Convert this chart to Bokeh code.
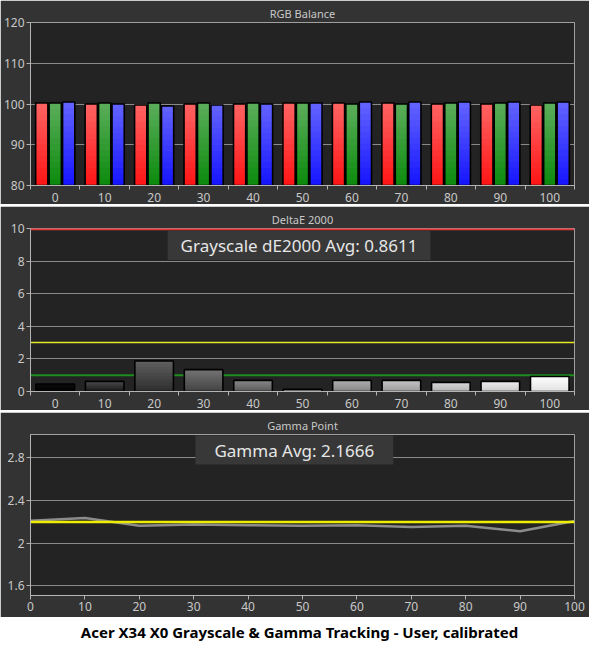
from bokeh.plotting import figure
from bokeh.models import FixedTicker, Span, Label, Range1d, Div
from bokeh.layouts import column
from bokeh.embed import file_html
from bokeh.resources import INLINE

# ---------------- data ----------------
levels = [0, 10, 20, 30, 40, 50, 60, 70, 80, 90, 100]
level_labels = ["0", "10", "20", "30", "40", "50", "60", "70", "80", "90", "100"]

red_vals = [100.24, 100.0, 99.76, 100.0, 100.0, 100.24, 100.24, 100.24, 100.0, 100.0, 99.76]
green_vals = [100.24, 100.24, 100.24, 100.24, 100.24, 100.24, 100.0, 100.0, 100.24, 100.24, 100.24]
blue_vals = [100.48, 100.0, 99.52, 99.76, 100.0, 100.24, 100.48, 100.48, 100.48, 100.48, 100.48]

de_vals = [0.46, 0.62, 1.87, 1.34, 0.68, 0.14, 0.68, 0.68, 0.56, 0.62, 0.92]
de_limits = [10, 3, 1]
de_avg_text = "Grayscale dE2000 Avg: 0.8611"

gamma_vals = [2.21, 2.236, 2.164, 2.176, 2.17, 2.164, 2.17, 2.152, 2.164, 2.113, 2.209]
gamma_target = 2.2
gamma_avg_text = "Gamma Avg: 2.1666"

rgb_ticks = [80, 90, 100, 110, 120]
de_ticks = [0, 2, 4, 6, 8, 10]
gamma_ticks = [1.6, 2.0, 2.4, 2.8]

caption = "Acer X34 X0 Grayscale & Gamma Tracking - User, calibrated"

# ---------------- style ----------------
FONT = "Noto Sans"
OUTER = "#333333"
INNER = "#232323"
GRID = "#8a8a8a"
AXIS = "#b4b4b4"
LABEL = "#c8c8c8"
W = 589


def hex2rgb(h):
    h = h.lstrip("#")
    return tuple(int(h[i:i + 2], 16) for i in (0, 2, 4))


def mix(c1, c2, t):
    a, b = hex2rgb(c1), hex2rgb(c2)
    return "#%02x%02x%02x" % tuple(int(round(a[i] + (b[i] - a[i]) * t)) for i in range(3))


def base_fig(title, height, xr, yr, left, right, top, bottom):
    p = figure(width=W, height=height, x_range=xr, y_range=yr,
               output_backend="svg", toolbar_location=None, tools="",
               min_border_left=left, min_border_right=right,
               min_border_top=top, min_border_bottom=bottom)
    p.title.text = title
    p.title.align = "center"
    p.title.text_color = LABEL
    p.title.text_font = FONT
    p.title.text_font_size = "11px"
    p.title.text_font_style = "normal"
    p.title.standoff = 4
    p.border_fill_color = OUTER
    p.background_fill_color = INNER
    p.outline_line_color = "#a0a0a0"
    p.outline_line_width = 1
    p.xgrid.grid_line_color = None
    p.ygrid.grid_line_color = GRID
    p.ygrid.grid_line_width = 1
    for ax in (p.xaxis[0], p.yaxis[0]):
        ax.axis_line_color = AXIS
        ax.major_tick_line_color = AXIS
        ax.minor_tick_line_color = AXIS
        ax.major_label_text_color = LABEL
        ax.major_label_text_font = FONT
        ax.major_label_text_font_size = "12px"
        ax.major_label_standoff = 2
        ax.major_tick_in = 0
        ax.minor_tick_in = 0
    p.yaxis[0].major_tick_out = 4
    p.yaxis[0].minor_tick_line_color = None
    return p


def cat_xaxis(p):
    bounds = [l - 5 for l in levels] + [levels[-1] + 5]
    p.xaxis[0].ticker = FixedTicker(ticks=levels, minor_ticks=bounds)
    p.xaxis[0].major_label_overrides = {l: s for l, s in zip(levels, level_labels)}
    p.xaxis[0].major_tick_out = 0
    p.xaxis[0].major_tick_line_color = None
    p.xaxis[0].minor_tick_out = 4
    p.xaxis[0].major_label_standoff = 3


def gradient_bars(p, xs, vals, base, width, c_bottom, c_top, n=14):
    for k in range(n):
        t = k / n
        bottoms = [base + (v - base) * t for v in vals]
        p.vbar(x=xs, width=width, bottom=bottoms, top=vals,
               fill_color=mix(c_bottom, c_top, (k + 0.5) / n), line_color=None)
    p.vbar(x=xs, width=width, bottom=base, top=vals, fill_alpha=0,
           line_color="black", line_width=1.6)


# ---------------- panel 1: RGB balance ----------------
p1 = base_fig("RGB Balance", 204, Range1d(-5, 105), Range1d(80, 120), 25, 15, 22, 18)
cat_xaxis(p1)
p1.yaxis[0].ticker = FixedTicker(ticks=rgb_ticks)
off = 2.72
bw = 2.47
gradient_bars(p1, [l - off for l in levels], red_vals, 80, bw, "#ff1414", "#ff6464")
gradient_bars(p1, levels, green_vals, 80, bw, "#0b8a0b", "#5cae5c")
gradient_bars(p1, [l + off for l in levels], blue_vals, 80, bw, "#1414ff", "#6464ff")

# ---------------- panel 2: DeltaE 2000 ----------------
p2 = base_fig("DeltaE 2000", 204, Range1d(-5, 105), Range1d(0, 10), 20, 14, 22, 18)
cat_xaxis(p2)
p2.yaxis[0].ticker = FixedTicker(ticks=de_ticks)
p2.ygrid.ticker = FixedTicker(ticks=de_ticks[1:-1])
for val, col, lw in zip(de_limits[1:], ["#e8e820", "#1e8c1e"], [1.5, 2]):
    p2.add_layout(Span(location=val, dimension="width", line_color=col,
                       line_width=lw, level="underlay"))
p2.add_layout(Span(location=de_limits[0], dimension="width", line_color="#e03a3a",
                   line_width=3.5, level="overlay"))
for l, v in zip(levels, de_vals):
    g = int(round(l / 100 * 255))
    base_c = "#%02x%02x%02x" % (g, g, g)
    top_c = mix(base_c, "#ffffff", 0.22) if g > 0 else "#0c0c0c"
    bot_c = mix(base_c, "#000000", 0.12)
    gradient_bars(p2, [l], [v], 0, 7.8, bot_c, top_c, n=10)
p2.add_layout(Label(x=49.3, y=9.85, text=de_avg_text, text_align="center",
                    text_baseline="top", text_font=FONT, text_font_size="17px",
                    text_color="#e6e6e6", background_fill_color="#383838",
                    padding=dict(left=13, right=13, top=3, bottom=3)))

# ---------------- panel 3: Gamma ----------------
p3 = base_fig("Gamma Point", 205, Range1d(0, 100), Range1d(1.51, 3.02), 23, 15, 22, 22)
p3.xaxis[0].ticker = FixedTicker(ticks=levels)
p3.xaxis[0].major_tick_out = 4
p3.xaxis[0].major_label_standoff = 2
p3.xaxis[0].minor_tick_line_color = None
p3.yaxis[0].ticker = FixedTicker(ticks=gamma_ticks)
p3.yaxis[0].major_label_overrides = {2.0: "2", 2: "2"}
p3.line(levels, gamma_vals, line_color="#8c8c8c", line_width=2.5)
p3.line(levels, [gamma_target] * len(levels), line_color="#eeee00", line_width=2.5)
p3.add_layout(Label(x=48.5, y=3.01, text=gamma_avg_text, text_align="center",
                    text_baseline="top", text_font=FONT, text_font_size="17px",
                    text_color="#e6e6e6", background_fill_color="#383838",
                    padding=dict(left=19, right=19, top=3, bottom=3)))

cap = Div(text=caption, width=W, height=17,
          styles={"text-align": "center", "font-weight": "bold", "font-size": "15px",
                  "font-family": FONT, "color": "black", "line-height": "17px",
                  "width": "%dpx" % W})

layout = column(p1, p2, p3, cap, spacing=2)
open("out.html", "w").write(file_html(layout, INLINE))
